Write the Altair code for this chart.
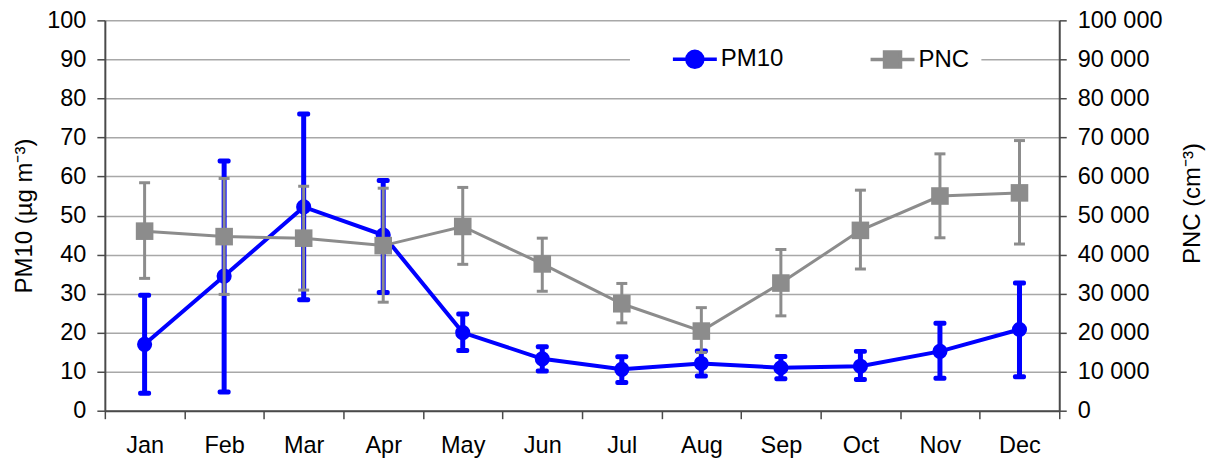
import altair as alt
import pandas as pd

months = ["Jan", "Feb", "Mar", "Apr", "May", "Jun", "Jul", "Aug", "Sep", "Oct", "Nov", "Dec"]
pm10 = [17.0, 34.5, 52.2, 45.0, 20.0, 13.3, 10.6, 12.1, 11.0, 11.4, 15.2, 20.8]
pm10_hi = [29.6, 64.0, 76.0, 59.0, 24.8, 16.4, 13.8, 15.3, 13.9, 15.2, 22.4, 32.7]
pm10_lo = [4.5, 4.8, 28.4, 30.3, 15.4, 10.2, 7.2, 8.9, 8.2, 8.0, 8.3, 8.7]
pnc = [46000, 44600, 44200, 42300, 47200, 37600, 27400, 20400, 32700, 46200, 55000, 55800]
pnc_hi = [58400, 59500, 57500, 57000, 57200, 44200, 32600, 26400, 41300, 56500, 65800, 69200]
pnc_lo = [33900, 29800, 30900, 27800, 37500, 30600, 22500, 14900, 24300, 36300, 44300, 42700]
series = ["PM10", "PNC"]
colors = ["#0000ff", "#8c8c8c"]
left_ticks = list(range(0, 101, 10))
right_ticks = list(range(0, 100001, 10000))

FONT = "Liberation Sans"
BLUE, GRAY = colors
AXC = "#4a4a4a"
LBL = 23.5
TTL = 24

df = pd.DataFrame({
    "month": months, "pm10": pm10, "pm10_hi": pm10_hi, "pm10_lo": pm10_lo,
    "pnc": pnc, "pnc_hi": pnc_hi, "pnc_lo": pnc_lo,
})
long_df = pd.DataFrame({
    "series": ["PM10"] * 12 + ["PNC"] * 12,
    "month": months * 2,
    "val": pm10 + [v / 1000 for v in pnc],
})

x_enc = alt.X(
    "month:N", sort=months, bandPosition=0.5,
    scale=alt.Scale(type="band", paddingInner=0, paddingOuter=0),
    axis=alt.Axis(title=None, labelAngle=0, tickBand="extent", labelFontSize=LBL,
                  labelFont=FONT, labelColor="black", labelPadding=15, tickSize=8,
                  tickColor=AXC, tickWidth=1.5, domainColor=AXC, domainWidth=2, grid=False),
)

left_scale = alt.Scale(domain=[0, 100], nice=False)
left_axis = alt.Axis(
    title="PM10 (µg m⁻³)", values=left_ticks, orient="left", grid=True,
    gridColor="#a8a8a8", gridWidth=1.5, labelFontSize=LBL, labelFont=FONT,
    labelColor="black", labelPadding=11, tickSize=8, tickColor=AXC, tickWidth=1.5,
    domainColor=AXC, domainWidth=2, titleFont=FONT, titleFontSize=TTL,
    titleFontWeight="normal", titleColor="black", titlePadding=10,
)
right_scale = alt.Scale(domain=[0, 100000], nice=False)
right_axis = alt.Axis(
    title="PNC (cm⁻³)", values=right_ticks, orient="right", grid=False,
    labelExpr="replace(format(datum.value, ','), ',', ' ')",
    labelFontSize=LBL, labelFont=FONT, labelColor="black", labelPadding=11,
    tickSize=7, tickColor=AXC, tickWidth=1.5, domainColor=AXC, domainWidth=2,
    titleFont=FONT, titleFontSize=TTL, titleFontWeight="normal", titleColor="black",
    titlePadding=19, titleAngle=270, titleBaseline="top", titleY=183,
)


def yl(f):
    return alt.Y(f + ":Q", scale=left_scale, axis=left_axis)


def yr(f):
    return alt.Y(f + ":Q", scale=right_scale, axis=right_axis)


base = alt.Chart(df)

pm_err = base.mark_rule(color=BLUE, strokeWidth=5).encode(x=x_enc, y=yl("pm10_lo"), y2="pm10_hi")
pm_cap_hi = base.mark_tick(color=BLUE, thickness=5, size=13, opacity=1, orient="horizontal",
                           cornerRadius=2).encode(x=x_enc, y=yl("pm10_hi"))
pm_cap_lo = base.mark_tick(color=BLUE, thickness=5, size=13, opacity=1, orient="horizontal",
                           cornerRadius=2).encode(x=x_enc, y=yl("pm10_lo"))
pm_line = base.mark_line(color=BLUE, strokeWidth=4).encode(x=x_enc, y=yl("pm10"))
pm_pts = base.mark_point(filled=True, shape="circle", size=230, color=BLUE, opacity=1).encode(
    x=x_enc, y=yl("pm10"))

circle_path = "M-2.2,0L2.2,0M-0.8,0A0.8,0.8,0,1,0,0.8,0A0.8,0.8,0,1,0,-0.8,0Z"
square_path = "M-2.2,0L2.2,0M-0.8,-0.75L0.8,-0.75L0.8,0.75L-0.8,0.75Z"

LEG = alt.Legend(
    title=None, orient="none", legendX=526, legendY=15, direction="horizontal",
    fillColor="white", padding=12, symbolSize=400, symbolStrokeWidth=3.5,
    symbolOffset=41, labelOffset=14, columnPadding=56, labelFontSize=TTL,
    labelFont=FONT, labelColor="black", symbolFillColor="#000000", symbolOpacity=1,
)
legend_layer = alt.Chart(long_df).mark_point(opacity=0, filled=True).encode(
    x=x_enc, y=yl("val"),
    fill=alt.Fill("series:N", scale=alt.Scale(domain=series, range=colors), legend=LEG),
    stroke=alt.Stroke("series:N", scale=alt.Scale(domain=series, range=colors), legend=LEG),
    shape=alt.Shape("series:N", scale=alt.Scale(domain=series, range=[circle_path, square_path]),
                    legend=LEG),
)

left = alt.layer(pm_err, pm_cap_hi, pm_cap_lo, pm_line, pm_pts, legend_layer)

pn_err = base.mark_rule(color=GRAY, strokeWidth=3).encode(x=x_enc, y=yr("pnc_lo"), y2="pnc_hi")
pn_cap_hi = base.mark_tick(color=GRAY, thickness=3, size=11, opacity=1, orient="horizontal").encode(
    x=x_enc, y=yr("pnc_hi"))
pn_cap_lo = base.mark_tick(color=GRAY, thickness=3, size=11, opacity=1, orient="horizontal").encode(
    x=x_enc, y=yr("pnc_lo"))
pn_line = base.mark_line(color=GRAY, strokeWidth=3).encode(x=x_enc, y=yr("pnc"))
pn_pts = base.mark_point(filled=True, shape="square", size=310, color=GRAY, opacity=1).encode(
    x=x_enc, y=yr("pnc"))

right = alt.layer(pn_err, pn_cap_hi, pn_cap_lo, pn_line, pn_pts)

chart = alt.layer(left, right).resolve_scale(y="independent").properties(
    width=956, height=391,
    autosize=alt.AutoSizeParams(type="none"),
    padding={"left": 97, "top": 12, "right": 148, "bottom": 50},
    background="white",
).configure_view(stroke=None)

chart.save("out.html", embed_options={"renderer": "svg", "actions": False})
